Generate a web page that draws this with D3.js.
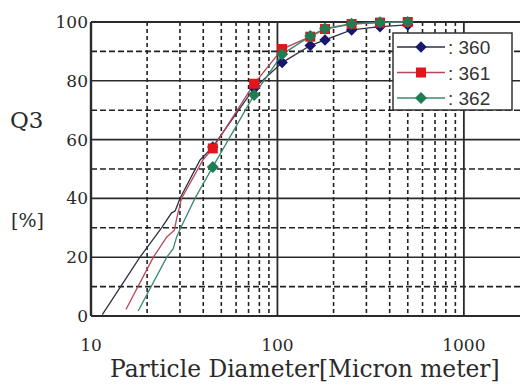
<!DOCTYPE html>
<html>
<head>
<meta charset="utf-8">
<script src="https://cdn.jsdelivr.net/npm/d3@7/dist/d3.min.js"></script>
<style>
    html, body { margin: 0; padding: 0; background: #fff; }
    svg { display: block; }
</style>
</head>
<body>
<svg id="chart" width="520" height="385"></svg>
<script>
// series names
const seriesNames = ['360', '361', '362'];

// sieve sizes that carry a marker [micron]
const sieveSizes = [45, 75, 106, 150, 180, 250, 355, 500];

// Q3 [%] at the sieve sizes
const q360 = [57.5, 77.5, 86.2, 92.0, 93.9, 97.3, 98.4, 99.0];
const q361 = [57.0, 79.0, 90.8, 95.0, 97.6, 99.3, 99.8, 100];
const q362 = [50.7, 75.2, 89.0, 95.2, 97.8, 99.4, 99.9, 100];

// lower part of each curve (no markers): diameters and Q3
const fine360x = [11.5, 18.3, 23.9, 27.0, 28.3, 30.0, 38.4];
const fine360y = [0.5, 20.0, 30.0, 35.0, 35.8, 40.0, 53.0];
const fine361x = [15.4, 21.6, 25.5, 28.0, 28.8, 30.6, 39.8];
const fine361y = [2.2, 20.0, 26.9, 29.2, 33.1, 40.0, 53.0];
const fine362x = [17.9, 25.5, 27.6, 28.8, 30.3, 36.1];
const fine362y = [1.7, 20.0, 22.9, 26.9, 30.0, 40.0];

// axis ticks
const xTicks = [10, 100, 1000];
const yTicks = [0, 20, 40, 60, 80, 100];

let svg = d3.select('#chart'),
    serif = 'DejaVu Serif, Liberation Serif, serif',
    sans = 'Liberation Sans, Arial, sans-serif',
    x = d3.scaleLog().domain([10, 2000]).range([91, 520]),
    y = d3.scaleLinear().domain([0, 100]).range([316, 22]),
    colors = d3.scaleOrdinal().domain(seriesNames).range(['#16186e', '#e3141b', '#1f7d52']),
    lineColors = d3.scaleOrdinal().domain(seriesNames).range(['#2f3045', '#b4485a', '#3a8a72']),
    // diamonds are squares turned by 45 degrees
    rotations = d3.scaleOrdinal().domain(seriesNames).range([45, 0, 45]),
    sizes = d3.scaleOrdinal().domain(seriesNames).range([66, 100, 72]);

let series = [
    { name: '360', fineX: fine360x, fineY: fine360y, q: q360 },
    { name: '361', fineX: fine361x, fineY: fine361y, q: q361 },
    { name: '362', fineX: fine362x, fineY: fine362y, q: q362 }
];
series.forEach(s => {
    s.markers = sieveSizes.map((d, i) => ({ d: d, v: s.q[i] }));
    s.points = s.fineX.map((d, i) => ({ d: d, v: s.fineY[i] })).concat(s.markers);
});

// grid: minor dashed first, then the solid major lines
let minorX = [];
[10, 100, 1000].forEach(dec => {
    for (let k = 2; k <= 9; k++) {
        if (dec * k < 2000) minorX.push(dec * k);
    }
});
let grid = svg.append('g');

grid.selectAll('.vminor')
    .data(minorX)
    .enter()
    .append('line')
    .attr('x1', d => x(d)).attr('x2', d => x(d))
    .attr('y1', y(100)).attr('y2', y(0))
    .attr('stroke', '#222')
    .attr('stroke-width', 1.6)
    .attr('stroke-dasharray', '4,3');

grid.selectAll('.hminor')
    .data([10, 30, 50, 70, 90])
    .enter()
    .append('line')
    .attr('x1', x(10)).attr('x2', 520)
    .attr('y1', d => y(d)).attr('y2', d => y(d))
    .attr('stroke', '#222')
    .attr('stroke-width', 1.6)
    .attr('stroke-dasharray', '6,3');

grid.selectAll('.hmajor')
    .data(yTicks)
    .enter()
    .append('line')
    .attr('x1', x(10)).attr('x2', 520)
    .attr('y1', d => y(d)).attr('y2', d => y(d))
    .attr('stroke', '#2a2a2a')
    .attr('stroke-width', d => (d === 0 || d === 100) ? 2.2 : 1.6);

grid.selectAll('.vmajor')
    .data(xTicks)
    .enter()
    .append('line')
    .attr('x1', d => x(d)).attr('x2', d => x(d))
    .attr('y1', y(100)).attr('y2', y(0))
    .attr('stroke', '#2a2a2a')
    .attr('stroke-width', d => d === 10 ? 2.4 : 1.8);

// tick labels
svg.selectAll('.ylab')
    .data(yTicks)
    .enter()
    .append('text')
    .attr('x', 88)
    .attr('y', d => y(d) + 6)
    .attr('text-anchor', 'end')
    .attr('font-family', serif)
    .attr('font-size', 17)
    .attr('fill', '#2a2a2a')
    .text(d => d);

svg.selectAll('.xlab')
    .data(xTicks)
    .enter()
    .append('text')
    .attr('x', d => x(d))
    .attr('y', 351)
    .attr('text-anchor', 'middle')
    .attr('font-family', serif)
    .attr('font-size', 17)
    .attr('fill', '#2a2a2a')
    .text(d => d);

svg.append('text')
    .attr('x', 10).attr('y', 128)
    .attr('font-family', serif)
    .attr('font-size', 23)
    .attr('fill', '#2a2a2a')
    .text('Q3');

svg.append('text')
    .attr('x', 11).attr('y', 227)
    .attr('font-family', serif)
    .attr('font-size', 19)
    .attr('fill', '#2a2a2a')
    .text('[%]');

let title = svg.append('text')
    .attr('x', 110).attr('y', 377)
    .attr('font-family', serif)
    .attr('font-size', 22)
    .attr('fill', '#2a2a2a')
    .text('Particle Diameter[Micron meter]');
// fit the title to the width it has in the picture
let tw = title.node().getComputedTextLength();
title.attr('font-size', 22 * 390 / tw);

// curves
let line = d3.line()
    .x(p => x(p.d))
    .y(p => y(p.v));

let plot = svg.append('g');

plot.selectAll('.curve')
    .data(series)
    .enter()
    .append('path')
    .attr('d', s => line(s.points))
    .attr('fill', 'none')
    .attr('stroke', s => lineColors(s.name))
    .attr('stroke-width', 1.3);

series.forEach(s => {
    plot.selectAll('.m' + s.name)
        .data(s.markers)
        .enter()
        .append('path')
        .attr('transform', p => `translate(${x(p.d)}, ${y(p.v)}) rotate(${rotations(s.name)})`)
        .attr('d', d3.symbol().type(d3.symbolSquare).size(sizes(s.name)))
        .attr('fill', colors(s.name));
});

// legend
let legend = svg.append('g');
legend.append('rect')
    .attr('x', 393).attr('y', 33)
    .attr('width', 119).attr('height', 77)
    .attr('fill', '#fff')
    .attr('stroke', '#333')
    .attr('stroke-width', 1.5);

let rows = legend.selectAll('.row')
    .data(seriesNames)
    .enter()
    .append('g')
    .attr('transform', (d, i) => `translate(0, ${47 + i * 25.5})`);

rows.append('line')
    .attr('x1', 397).attr('x2', 445)
    .attr('stroke', d => lineColors(d))
    .attr('stroke-width', 1.5);

rows.append('path')
    .attr('transform', d => `translate(421, 0) rotate(${rotations(d)})`)
    .attr('d', d => d3.symbol().type(d3.symbolSquare).size(sizes(d))())
    .attr('fill', d => colors(d));

rows.append('text')
    .attr('x', 448).attr('y', 7)
    .attr('font-family', sans)
    .attr('font-size', 19)
    .attr('fill', '#333')
    .text(d => ': ' + d);
</script>
</body>
</html>
